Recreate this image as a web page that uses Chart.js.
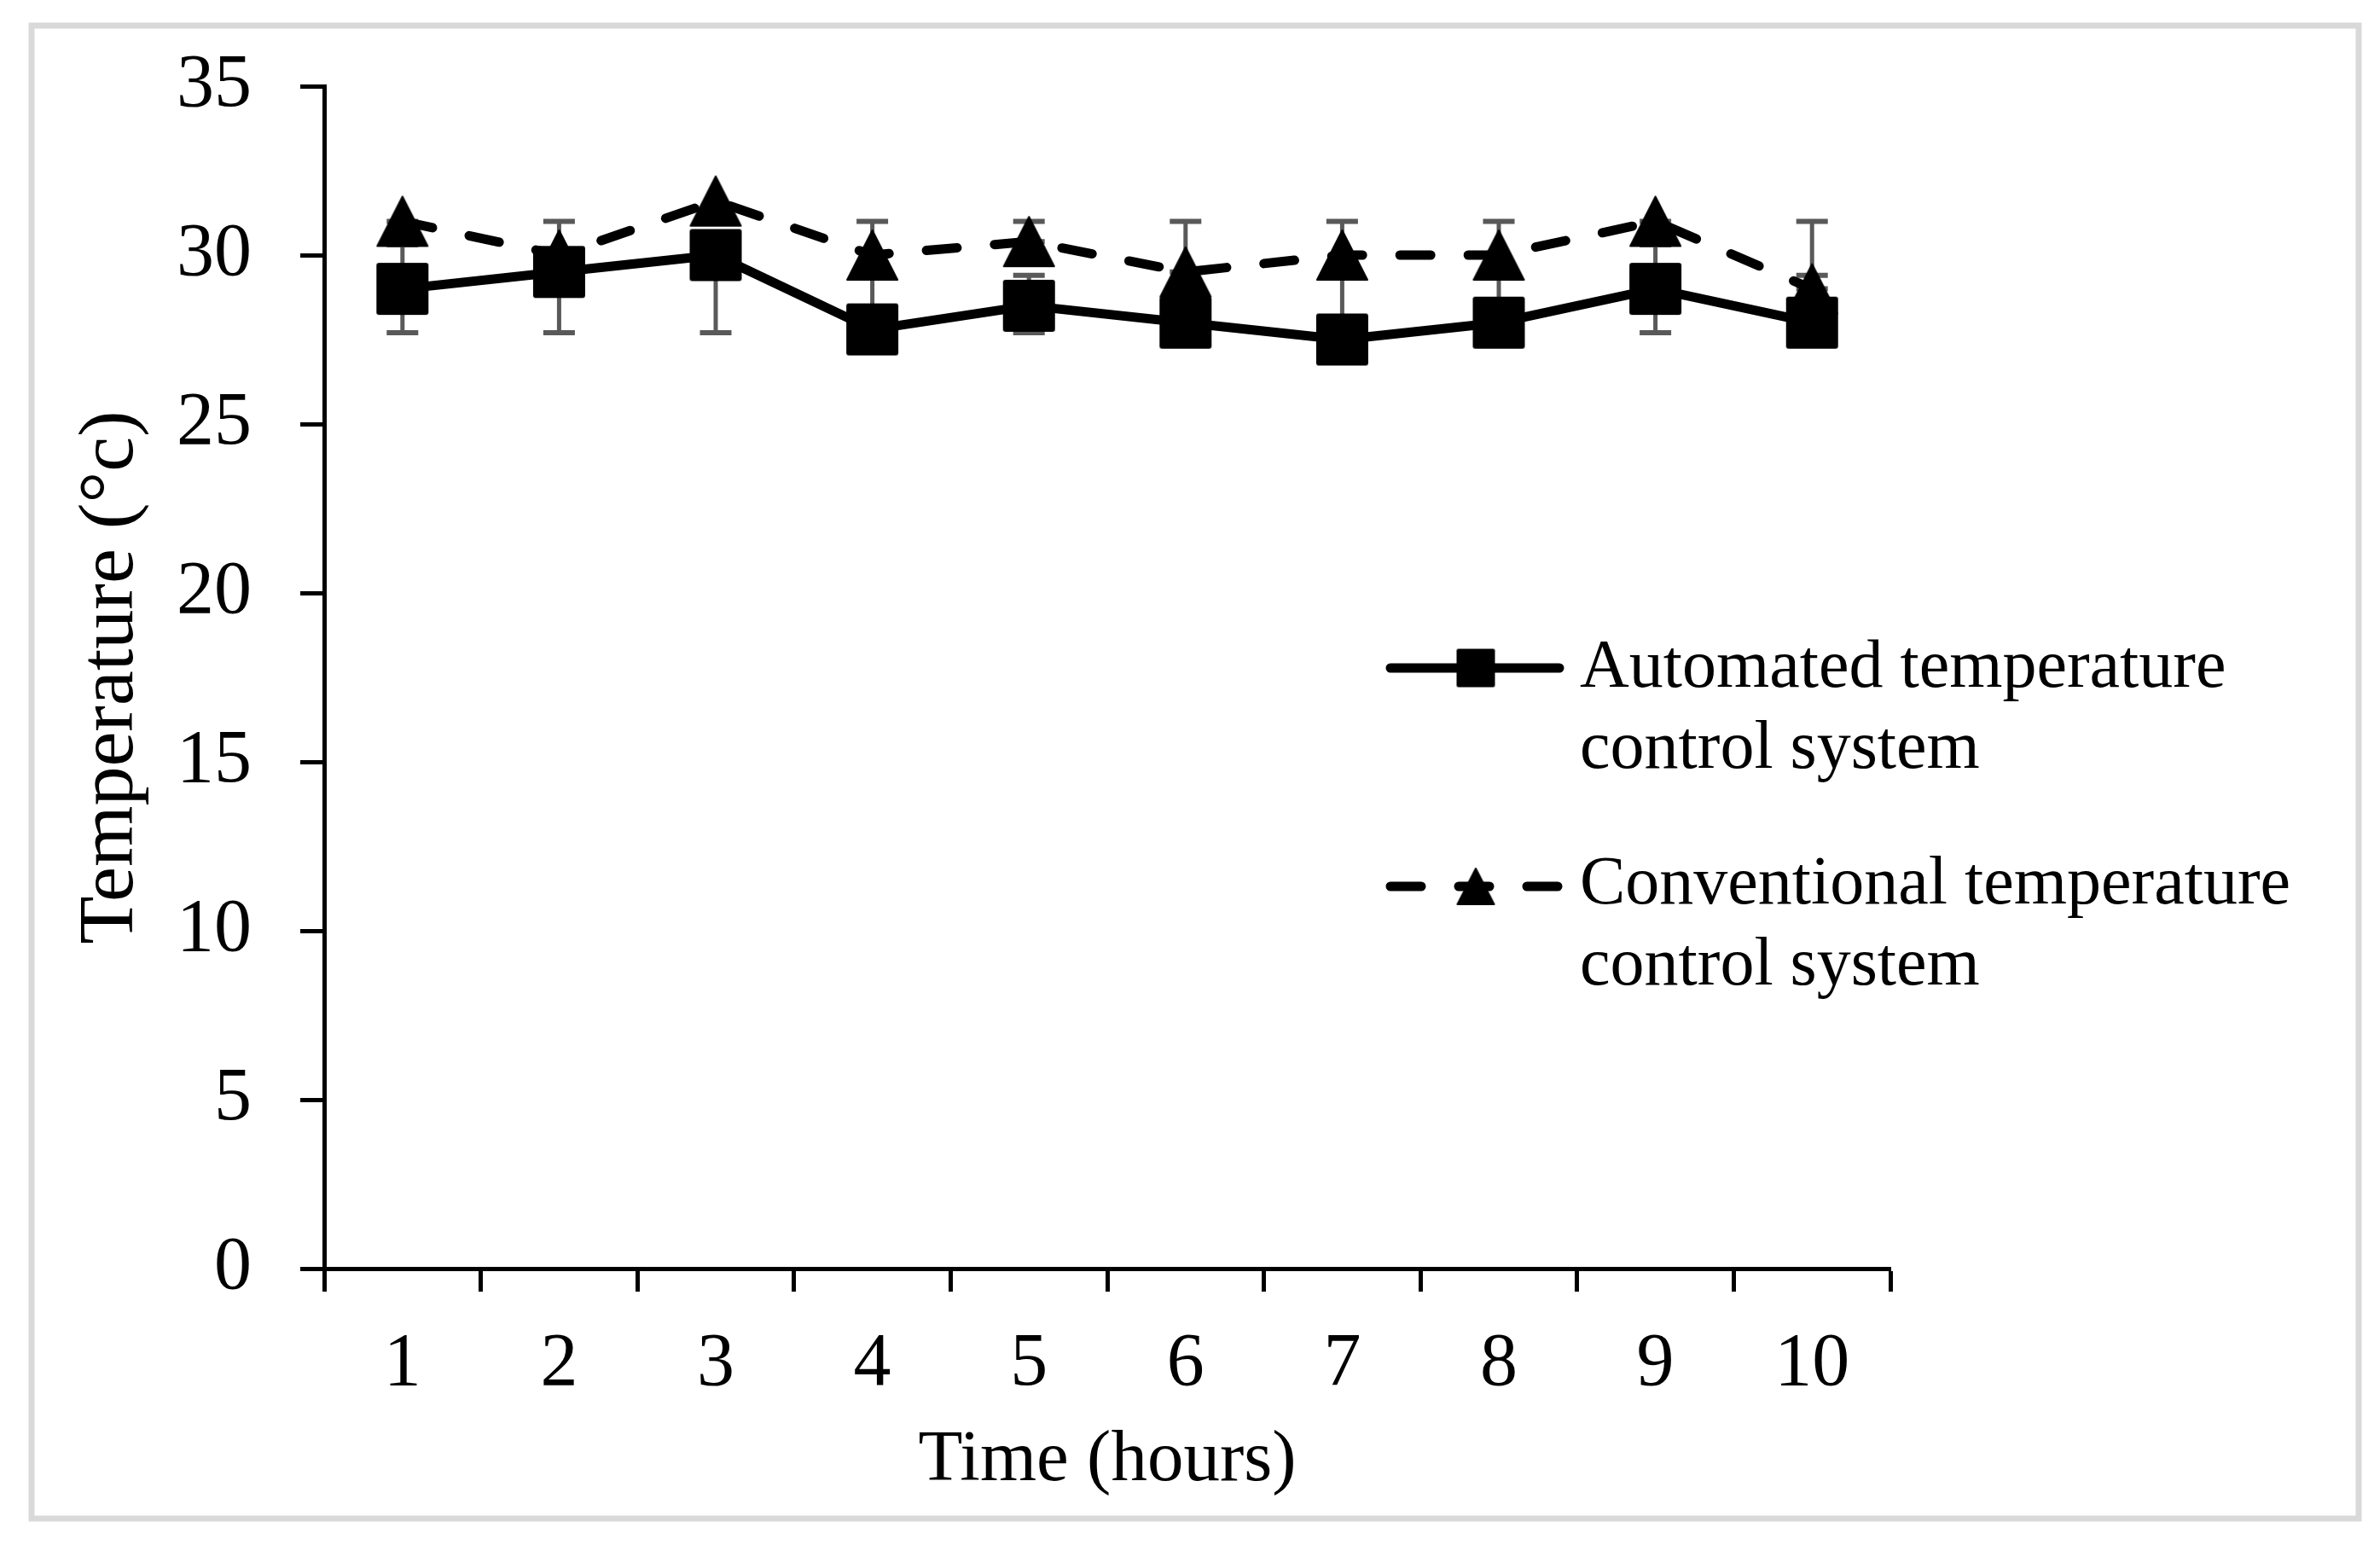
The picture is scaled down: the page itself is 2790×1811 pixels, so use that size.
<!DOCTYPE html>
<html>
<head>
<meta charset="utf-8">
<title>Temperature over time</title>
<script src="https://cdn.jsdelivr.net/npm/chart.js@4.4.1/dist/chart.umd.min.js"></script>
<style>
  html, body { margin: 0; padding: 0; background: #fff; }
  canvas { display: block; }
</style>
</head>
<body>
<canvas id="tempChart" width="2790" height="1811"></canvas>
<script>
// values
const hours = ['1', '2', '3', '4', '5', '6', '7', '8', '9', '10'];
const automated = [29.0, 29.5, 30.0, 27.8, 28.5, 28.0, 27.5, 28.0, 29.0, 28.0];
const conventional = [31.0, 30.0, 31.6, 30.0, 30.4, 29.5, 30.0, 30.0, 31.0, 29.0];

// error bar ends (null = bar hidden behind the markers)
const autoErrLow = [27.7, 27.7, 27.7, 27.2, 27.7, null, null, null, 27.7, 28.0];
const autoErrHigh = [30.3, 30.0, 30.5, 31.0, 29.4, null, null, null, 30.3, 29.4];
const convErrLow = [31.0, 30.0, null, null, 30.4, 29.5, 27.5, 28.0, 31.0, 29.0];
const convErrHigh = [31.0, 31.0, null, null, 31.0, 31.0, 31.0, 31.0, 31.0, 31.0];

const yTicks = [0, 5, 10, 15, 20, 25, 30, 35];
const seriesNames = [
    ['Automated temperature', 'control system'],
    ['Conventional temperature', 'control system']
];
const xTitle = 'Time (hours)';
const yTitle = 'Temperature (°c)';

const serif = '"Liberation Serif", "Times New Roman", serif';

// marker images
function squareMarker(size) {
    const c = document.createElement('canvas');
    c.width = size + 2;
    c.height = size + 2;
    const g = c.getContext('2d');
    g.fillStyle = '#000';
    g.beginPath();
    g.roundRect(1, 1, size, size, size * 0.05);
    g.fill();
    return c;
}

function triangleMarker(w, h) {
    const c = document.createElement('canvas');
    c.width = w + 2;
    c.height = h + 2;
    const g = c.getContext('2d');
    g.fillStyle = '#000';
    g.strokeStyle = '#000';
    g.lineJoin = 'round';
    g.lineWidth = 2;
    g.beginPath();
    g.moveTo(1 + w / 2, 2);
    g.lineTo(w, h);
    g.lineTo(2, h);
    g.closePath();
    g.fill();
    g.stroke();
    return c;
}

const squareBig = squareMarker(61);
const triangleBig = triangleMarker(61, 60);
const squareSmall = squareMarker(45);
const triangleSmall = triangleMarker(45, 44);

// white page with the light grey frame
const framePlugin = {
    id: 'frame',
    beforeDraw(chart) {
        const ctx = chart.ctx;
        ctx.save();
        ctx.fillStyle = '#fff';
        ctx.fillRect(0, 0, chart.width, chart.height);
        ctx.strokeStyle = '#d9d9d9';
        ctx.lineWidth = 7;
        ctx.strokeRect(37, 30, 2728, 1750);
        ctx.restore();
    }
};

const errorBarPlugin = {
    id: 'errorBars',
    beforeDatasetsDraw(chart) {
        const { ctx, scales: { x, y } } = chart;
        const sets = [[autoErrLow, autoErrHigh], [convErrLow, convErrHigh]];
        ctx.save();
        ctx.strokeStyle = '#595959';
        ctx.lineCap = 'butt';
        sets.forEach(([lo, hi]) => {
            hours.forEach((h, i) => {
                if (lo[i] == null || hi[i] == null) return;
                const px = x.getPixelForValue(i);
                const yLo = y.getPixelForValue(lo[i]);
                const yHi = y.getPixelForValue(hi[i]);
                ctx.lineWidth = 5;
                ctx.beginPath();
                ctx.moveTo(px, yLo);
                ctx.lineTo(px, yHi);
                ctx.stroke();
                ctx.lineWidth = 6;
                ctx.beginPath();
                ctx.moveTo(px - 18.5, yLo);
                ctx.lineTo(px + 18.5, yLo);
                ctx.moveTo(px - 18.5, yHi);
                ctx.lineTo(px + 18.5, yHi);
                ctx.stroke();
            });
        });
        ctx.restore();
    }
};

// legend inside the plot, line + marker sample and two-line text
const legendPlugin = {
    id: 'sideLegend',
    afterDraw(chart) {
        const ctx = chart.ctx;
        const rows = [
            { y: 783, marker: squareSmall, textY: 805 },
            { y: 1039, marker: triangleSmall, textY: 1059 }
        ];
        ctx.save();
        rows.forEach((row, i) => {
            const ds = chart.data.datasets[i];
            ctx.strokeStyle = '#000';
            ctx.lineWidth = ds.borderWidth;
            ctx.lineCap = 'round';
            ctx.setLineDash(ds.borderDash || []);
            ctx.lineDashOffset = 0;
            ctx.beginPath();
            ctx.moveTo(1630, row.y);
            ctx.lineTo(1828, row.y);
            ctx.stroke();
            ctx.setLineDash([]);
            ctx.drawImage(row.marker, 1730 - row.marker.width / 2, row.y - row.marker.height / 2);

            ctx.fillStyle = '#000';
            ctx.font = '80px ' + serif;
            ctx.textBaseline = 'alphabetic';
            ctx.textAlign = 'left';
            seriesNames[i].forEach((line, k) => {
                ctx.fillText(line, 1852, row.textY + k * 95);
            });
        });
        ctx.restore();
    }
};

const ctx = document.getElementById('tempChart').getContext('2d');
const tempChart = new Chart(ctx, {
    type: 'line',
    data: {
        labels: hours,
        datasets: [
            {
                label: seriesNames[0].join(' '),
                data: automated,
                borderColor: '#000',
                backgroundColor: '#000',
                borderWidth: 11,
                borderCapStyle: 'round',
                borderJoinStyle: 'round',
                pointStyle: squareBig,
                pointRadius: 30,
                tension: 0,
                fill: false
            },
            {
                label: seriesNames[1].join(' '),
                data: conventional,
                borderColor: '#000',
                backgroundColor: '#000',
                borderWidth: 11,
                borderDash: [36, 44],
                borderCapStyle: 'round',
                borderJoinStyle: 'round',
                pointStyle: triangleBig,
                pointRadius: 30,
                tension: 0,
                fill: false
            }
        ]
    },
    options: {
        responsive: false,
        devicePixelRatio: 1,
        animation: false,
        events: [],
        layout: {
            padding: { left: 0, top: 101, right: 574, bottom: 0 }
        },
        plugins: {
            legend: { display: false },
            tooltip: { enabled: false }
        },
        scales: {
            x: {
                offset: true,
                grid: {
                    offset: true,
                    drawOnChartArea: false,
                    drawTicks: true,
                    tickLength: 27,
                    tickWidth: 5,
                    tickColor: '#000',
                    color: '#000'
                },
                border: { display: true, color: '#000', width: 5 },
                ticks: {
                    color: '#000',
                    font: { family: serif, size: 88 },
                    padding: 33,
                    autoSkip: false,
                    maxRotation: 0
                },
                title: {
                    display: true,
                    text: xTitle,
                    color: '#000',
                    font: { family: serif, size: 85 },
                    padding: { top: 0, bottom: 47 }
                },
                afterFit(scale) {
                    scale.height = 324;
                    scale.paddingLeft = 0;
                    scale.paddingRight = 0;
                }
            },
            y: {
                min: 0,
                max: 35,
                afterBuildTicks(scale) {
                    scale.ticks = yTicks.map(v => ({ value: v }));
                },
                grid: {
                    drawOnChartArea: false,
                    drawTicks: true,
                    tickLength: 28,
                    tickWidth: 5,
                    tickColor: '#000',
                    color: '#000'
                },
                border: { display: true, color: '#000', width: 5 },
                ticks: {
                    color: '#000',
                    font: { family: serif, size: 88 },
                    padding: 57
                },
                title: {
                    display: true,
                    text: yTitle,
                    color: '#000',
                    font: { family: serif, size: 92 },
                    padding: { top: 76, bottom: 0 }
                },
                afterFit(scale) {
                    scale.width = 380;
                    scale.paddingTop = 0;
                    scale.paddingBottom = 0;
                }
            }
        }
    },
    plugins: [framePlugin, errorBarPlugin, legendPlugin]
});
</script>
</body>
</html>
